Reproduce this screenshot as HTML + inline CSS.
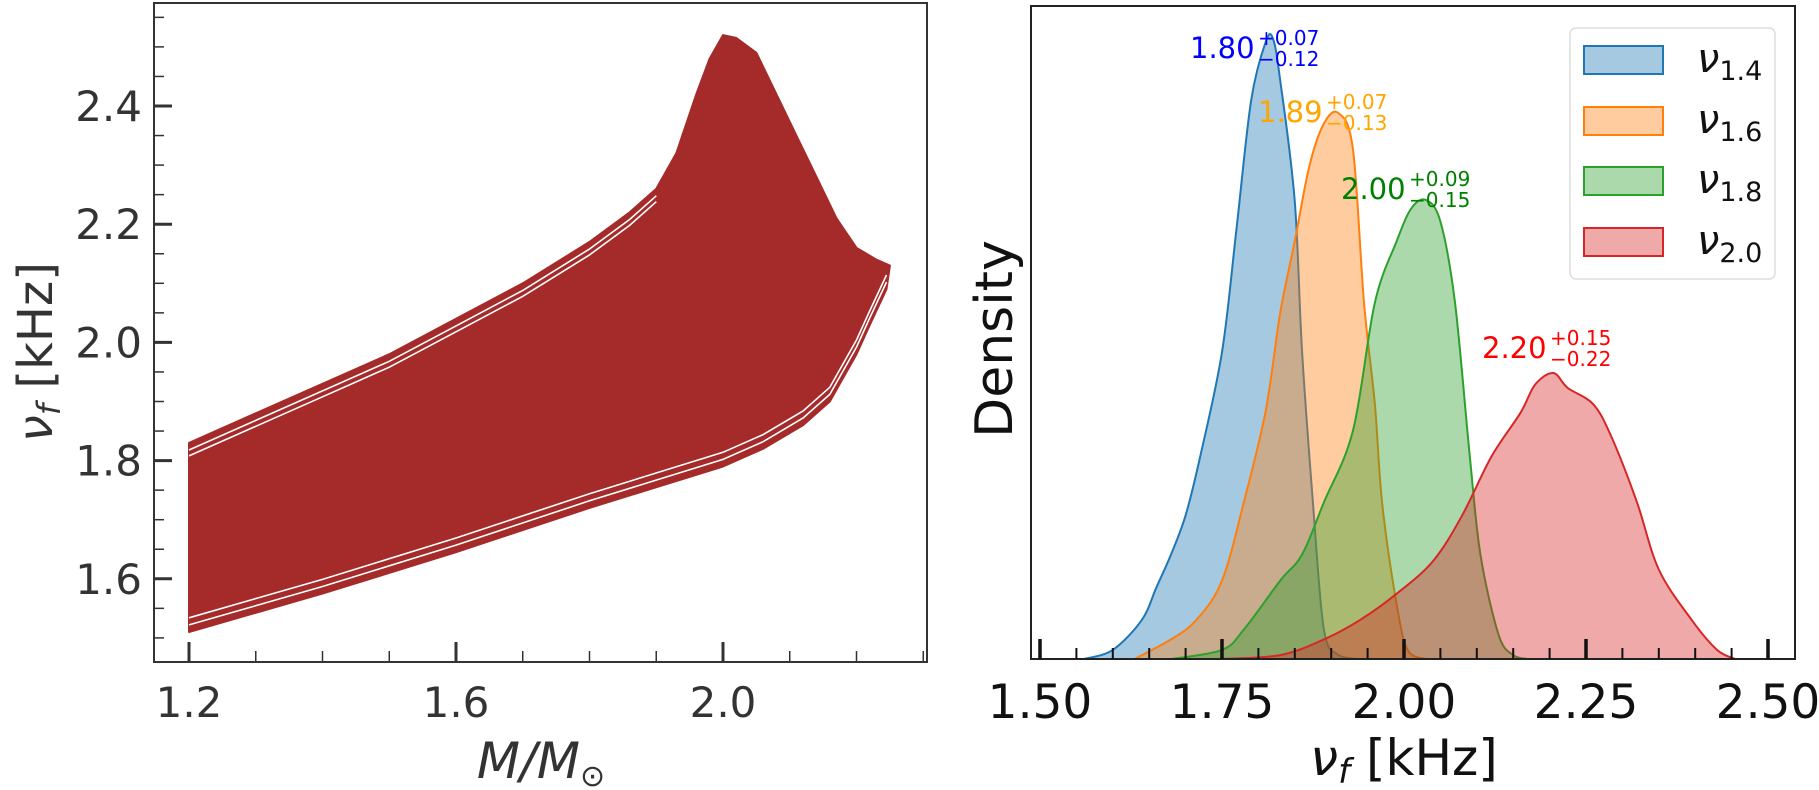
<!DOCTYPE html>
<html><head><meta charset="utf-8"><style>
html,body{margin:0;padding:0;background:#fff;}
svg{display:block;font-family:"DejaVu Sans","Liberation Sans",sans-serif;}
</style></head><body>
<svg id="fig" width="1819" height="790" viewBox="0 0 1819 790">
  <g id="left"></g>
  <g id="right"></g>
</svg>
<script>
// ---- Left panel data: band of nu_f vs M ----
const upperMass = [1.2,1.3,1.4,1.5,1.6,1.7,1.8,1.86,1.9,1.93,1.96,1.98,2.0,2.02,2.05,2.08,2.11,2.14,2.17,2.2,2.23,2.25];
const upperFreq = [1.83,1.88,1.93,1.98,2.04,2.10,2.17,2.22,2.26,2.32,2.42,2.48,2.52,2.515,2.49,2.42,2.35,2.28,2.21,2.16,2.14,2.13];
const lowerMass = [2.245,2.22,2.2,2.16,2.12,2.06,2.0,1.8,1.6,1.4,1.2];
const lowerFreq = [2.09,2.03,1.98,1.90,1.86,1.82,1.79,1.72,1.645,1.575,1.51];
const leftXTicks = [1.2,1.6,2.0];
const leftXTickLabels = ["1.2","1.6","2.0"];
const leftYTicks = [1.6,1.8,2.0,2.2,2.4];
const leftYTickLabels = ["1.6","1.8","2.0","2.2","2.4"];

// ---- Right panel data: KDE densities ----
const seriesNames = ["ν1.4","ν1.6","ν1.8","ν2.0"];
const blueX = [1.56,1.60,1.64,1.66,1.68,1.70,1.72,1.75,1.77,1.79,1.81,1.82,1.83,1.85,1.86,1.875,1.89,1.91,1.935];
const blueY = [0,0.014,0.06,0.11,0.16,0.22,0.31,0.47,0.66,0.855,0.945,0.95,0.886,0.70,0.47,0.238,0.045,0.006,0];
const orangeX = [1.63,1.68,1.715,1.75,1.78,1.81,1.83,1.85,1.87,1.89,1.91,1.93,1.945,1.96,1.97,1.99,2.005,2.03];
const orangeY = [0,0.03,0.06,0.12,0.24,0.38,0.53,0.64,0.755,0.82,0.836,0.78,0.546,0.39,0.238,0.083,0.014,0];
const greenX = [1.68,1.75,1.78,1.83,1.86,1.89,1.93,1.96,1.99,2.01,2.03,2.05,2.07,2.09,2.105,2.13,2.15,2.17];
const greenY = [0,0.014,0.045,0.12,0.16,0.24,0.35,0.546,0.64,0.69,0.703,0.67,0.546,0.315,0.16,0.037,0.006,0];
const redX = [1.75,1.83,1.89,1.94,1.99,2.04,2.08,2.12,2.16,2.18,2.205,2.225,2.26,2.285,2.32,2.35,2.395,2.43,2.455];
const redY = [0,0.006,0.03,0.06,0.10,0.15,0.22,0.31,0.377,0.42,0.438,0.415,0.39,0.34,0.24,0.137,0.06,0.014,0];
const rightXTicks = [1.50,1.75,2.00,2.25,2.50];
const rightXTickLabels = ["1.50","1.75","2.00","2.25","2.50"];
const annoMain = ["1.80","1.89","2.00","2.20"];
const annoPlus = ["+0.07","+0.07","+0.09","+0.15"];
const annoMinus = ["−0.12","−0.13","−0.15","−0.22"];

const NS = "http://www.w3.org/2000/svg";
function mk(parent, tag, attrs, text){
  const e = document.createElementNS(NS, tag);
  for (const k in attrs) e.setAttribute(k, attrs[k]);
  if (text !== undefined) e.textContent = text;
  parent.appendChild(e);
  return e;
}

// ===== Left panel =====
const L = document.getElementById('left');
const lx0=154, lx1=927, ly0=3, ly1=662;
const lxs = m => 189 + (m-1.2)*667.5;
const lys = v => 106 + (2.4-v)*591;

let pts = [];
for (let i=0;i<upperMass.length;i++) pts.push(lxs(upperMass[i]).toFixed(1)+","+lys(upperFreq[i]).toFixed(1));
for (let i=0;i<lowerMass.length;i++) pts.push(lxs(lowerMass[i]).toFixed(1)+","+lys(lowerFreq[i]).toFixed(1));
const band = mk(L,'polygon',{points:pts.join(' '),fill:'#a52a2a',stroke:'#a52a2a','stroke-width':2,'stroke-linejoin':'round'});


function curvePath(ms, vs, dv, uptoIdx){
  let d="";
  for (let i=0;i<uptoIdx;i++) d += (i?"L":"M")+lxs(ms[i]).toFixed(1)+","+lys(vs[i]+dv).toFixed(1);
  return d;
}
[-0.012,-0.022].forEach(dv=>{
  const g = mk(L,'path',{d:curvePath(upperMass,upperFreq,dv,9),fill:'none',stroke:'#fff','stroke-width':1.6});
  
  
});
const lmR = lowerMass.slice().reverse(), lfR = lowerFreq.slice().reverse();
[0.012,0.024].forEach(dv=>{
  const g = mk(L,'path',{d:curvePath(lmR,lfR,dv,lmR.length),fill:'none',stroke:'#fff','stroke-width':1.6});
  
  
});
const lframe = mk(L,'rect',{x:lx0,y:ly0,width:lx1-lx0,height:ly1-ly0,fill:'none',stroke:'#333','stroke-width':2});


for (let m=1.2; m<=2.301; m+=0.1){
  const major = leftXTicks.some(t=>Math.abs(t-m)<1e-6);
  const t = mk(L,'line',{x1:lxs(m),x2:lxs(m),y1:ly1,y2:ly1-(major?20:11),stroke:'#333','stroke-width':major?3:1.5});
  
  
}
for (let v=1.5; v<=2.56; v+=0.05){
  const major = leftYTicks.some(t=>Math.abs(t-v)<1e-6);
  const t = mk(L,'line',{x1:lx0,x2:lx0+(major?18:10),y1:lys(v),y2:lys(v),stroke:'#333','stroke-width':major?3:1.5});
  
  
}
leftXTicks.forEach((m,i)=>{
  const t = mk(L,'text',{x:lxs(m),y:717,'text-anchor':'middle','font-size':42,fill:'#333'},leftXTickLabels[i]);
  
  
});
leftYTicks.forEach((v,i)=>{
  const t = mk(L,'text',{x:142,y:lys(v)+15,'text-anchor':'end','font-size':42,fill:'#333'},leftYTickLabels[i]);
  
  
});
const lxl = mk(L,'text',{x:541,y:778,'text-anchor':'middle','font-size':50,fill:'#333','font-style':'italic'});
lxl.innerHTML = 'M/M<tspan font-size="30" dy="8" font-style="normal">⊙</tspan>';


const lyl = mk(L,'text',{x:0,y:0,'text-anchor':'middle','font-size':48,fill:'#333',transform:'translate(52,352) rotate(-90)'});
lyl.innerHTML = '<tspan font-style="italic">ν</tspan><tspan font-size="32" dy="8" font-style="italic">f</tspan><tspan dy="-8"> [kHz]</tspan>';



// ===== Right panel =====
const R = document.getElementById('right');
const rx0=1031, rx1=1795, ry0=6, ry1=659;
const rxs = v => 1040 + (v-1.5)*728;
const rys = d => ry1 - d*(ry1-ry0);
const seriesX = [blueX, orangeX, greenX, redX];
const seriesY = [blueY, orangeY, greenY, redY];
const colors = ['#1f77b4','#ff7f0e','#2ca02c','#d62728'];
const snames = ['kde-nu-1-4','kde-nu-1-6','kde-nu-1-8','kde-nu-2-0'];
seriesX.forEach((xs,s)=>{
  const ys = seriesY[s];
  const P = xs.map((x,i)=>[rxs(x), rys(ys[i])]);
  let d = "M"+P[0][0].toFixed(1)+","+P[0][1].toFixed(1);
  for (let i=0;i<P.length-1;i++){
    const p0=P[Math.max(0,i-1)], p1=P[i], p2=P[i+1], p3=P[Math.min(P.length-1,i+2)];
    const c1=[p1[0]+(p2[0]-p0[0])/6, p1[1]+(p2[1]-p0[1])/6];
    const c2=[p2[0]-(p3[0]-p1[0])/6, p2[1]-(p3[1]-p1[1])/6];
    d += "C"+c1[0].toFixed(1)+","+Math.min(ry1,c1[1]).toFixed(1)+" "+c2[0].toFixed(1)+","+Math.min(ry1,c2[1]).toFixed(1)+" "+p2[0].toFixed(1)+","+p2[1].toFixed(1);
  }
  const p = mk(R,'path',{d:d+"Z",fill:colors[s],'fill-opacity':0.4,stroke:colors[s],'stroke-width':2});
  
  
});
const rframe = mk(R,'rect',{x:rx0,y:ry0,width:rx1-rx0,height:ry1-ry0,fill:'none',stroke:'#222','stroke-width':2});


for (let v=1.5; v<=2.501; v+=0.05){
  const major = rightXTicks.some(t=>Math.abs(t-v)<1e-6);
  const t = mk(R,'line',{x1:rxs(v),x2:rxs(v),y1:ry1,y2:ry1-(major?20:11),stroke:'#111','stroke-width':major?3.5:2});
  
  
}
rightXTicks.forEach((v,i)=>{
  const t = mk(R,'text',{x:rxs(v),y:718,'text-anchor':'middle','font-size':47,fill:'#111'},rightXTickLabels[i]);
  
  
});
const rxl = mk(R,'text',{x:1404,y:775,'text-anchor':'middle','font-size':50,fill:'#111'});
rxl.innerHTML = '<tspan font-style="italic">ν</tspan><tspan font-size="34" dy="8" font-style="italic">f</tspan><tspan dy="-8"> [kHz]</tspan>';


const ryl = mk(R,'text',{x:0,y:0,'text-anchor':'middle','font-size':52,fill:'#111',transform:'translate(1012,339) rotate(-90)'},'Density');



const annoPos = [[1190,58],[1258,122],[1341,199],[1482,358]];
const annoCol = ['#0000ff','#ffa500','#008000','#ff0000'];
annoMain.forEach((txt,i)=>{
  const [x,y] = annoPos[i];
  const g = mk(R,'g',{fill:annoCol[i]});
  
  
  mk(g,'text',{x:x,y:y,'font-size':29},txt);
  mk(g,'text',{x:x+68,y:y-13,'font-size':20},annoPlus[i]);
  mk(g,'text',{x:x+68,y:y+8,'font-size':20},annoMinus[i]);
});

const lg = mk(R,'g',{});


mk(lg,'rect',{x:1570,y:28,width:205,height:251,rx:6,fill:'#fff','fill-opacity':0.85,stroke:'#ddd','stroke-width':1.5});
const legY = [60,121,181,242];
seriesNames.forEach((nm,i)=>{
  const e = mk(lg,'g',{});
  
  
  mk(e,'rect',{x:1584,y:legY[i]-14,width:79,height:28,fill:colors[i],'fill-opacity':0.4,stroke:colors[i],'stroke-width':2});
  const t = mk(e,'text',{x:1697,y:legY[i]+12,'font-size':40,fill:'#111'});
  t.innerHTML = '<tspan font-style="italic">ν</tspan><tspan font-size="27" dy="8">'+nm.slice(1)+'</tspan>';
});
</script>
</body></html>
